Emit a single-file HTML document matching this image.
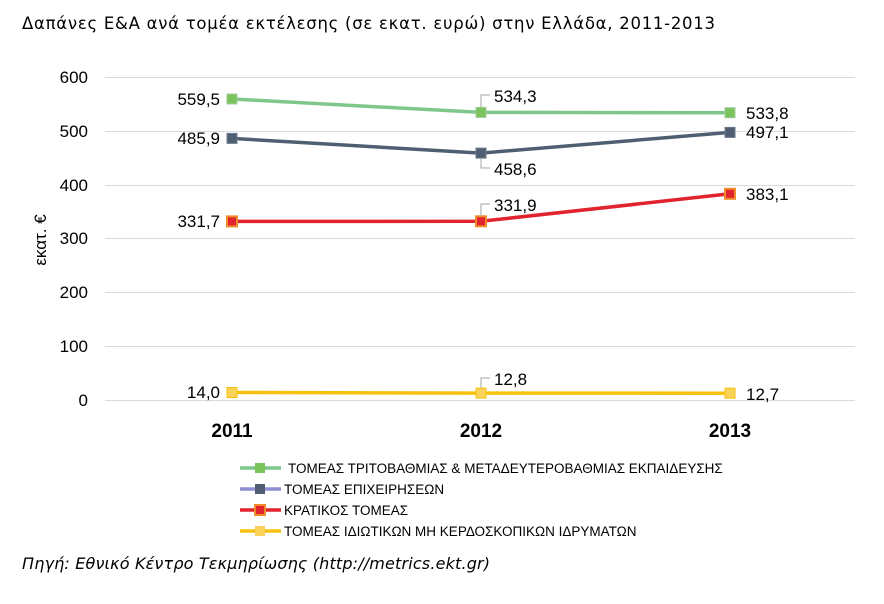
<!DOCTYPE html>
<html><head><meta charset="utf-8"><style>
body{margin:0;background:#fff;}
svg text{font-family:"Liberation Sans","DejaVu Sans",sans-serif;}
</style></head><body>
<svg width="884" height="599" viewBox="0 0 884 599" xmlns="http://www.w3.org/2000/svg">
<rect width="884" height="599" fill="#fff"/>
<text x="22" y="29" font-size="16.5" textLength="693" lengthAdjust="spacing" fill="#000" style="font-family:'DejaVu Sans',sans-serif">Δαπάνες Ε&amp;Α ανά τομέα εκτέλεσης (σε εκατ. ευρώ) στην Ελλάδα, 2011-2013</text>
<g stroke="#d9d9d9" stroke-width="1">
<line x1="105" y1="77.5" x2="855" y2="77.5"/><line x1="105" y1="131.5" x2="855" y2="131.5"/>
<line x1="105" y1="185.5" x2="855" y2="185.5"/><line x1="105" y1="238.5" x2="855" y2="238.5"/>
<line x1="105" y1="292.5" x2="855" y2="292.5"/><line x1="105" y1="346.5" x2="855" y2="346.5"/>
<line x1="105" y1="400.5" x2="855" y2="400.5"/>
</g>
<g font-size="17" fill="#000" text-anchor="end">
<text x="88" y="83">600</text><text x="88" y="137">500</text><text x="88" y="191">400</text>
<text x="88" y="244">300</text><text x="88" y="298">200</text><text x="88" y="352">100</text><text x="88" y="406">0</text>
</g>
<text transform="translate(46,240) rotate(-90)" font-size="17" text-anchor="middle">εκατ. €</text>
<g font-size="19" font-weight="bold" text-anchor="middle">
<text x="232" y="437">2011</text><text x="481" y="437">2012</text><text x="730" y="437">2013</text>
</g>
<g fill="none" stroke-width="3.5">
<polyline points="232,99 481,112.4 730,112.7" stroke="#7fc68a"/>
<polyline points="232,138.4 481,153.1 730,132.4" stroke="#4f5f71"/>
<polyline points="232,221.4 481,221.3 730,193.8" stroke="#e0232d"/>
<polyline points="232,392.5 481,393.1 730,393.2" stroke="#f7c20f"/>
</g>
<g stroke-width="1">
<rect x="227" y="94" width="10" height="10" fill="#7cc35b" stroke="#9fc99f"/><rect x="476" y="107.4" width="10" height="10" fill="#7cc35b" stroke="#9fc99f"/><rect x="725" y="107.7" width="10" height="10" fill="#7cc35b" stroke="#9fc99f"/>
<rect x="227" y="133.4" width="10" height="10" fill="#4f5f71" stroke="#6b7a8a"/><rect x="476" y="148.1" width="10" height="10" fill="#4f5f71" stroke="#6b7a8a"/><rect x="725" y="127.4" width="10" height="10" fill="#4f5f71" stroke="#6b7a8a"/>
<rect x="227" y="216.4" width="10" height="10" fill="#e0232d" stroke="#f08a2a" stroke-width="2"/><rect x="476" y="216.3" width="10" height="10" fill="#e0232d" stroke="#f08a2a" stroke-width="2"/><rect x="725" y="188.8" width="10" height="10" fill="#e0232d" stroke="#f08a2a" stroke-width="2"/>
<rect x="227" y="387.5" width="10" height="10" fill="#fad25a" stroke="#f7c20f"/><rect x="476" y="388.1" width="10" height="10" fill="#fad25a" stroke="#f7c20f"/><rect x="725" y="388.2" width="10" height="10" fill="#fad25a" stroke="#f7c20f"/>
</g>
<g stroke="#a6a6a6" fill="none" stroke-width="1">
<polyline points="481,107 481,95 490,95"/><polyline points="481,158 481,168 490,168"/>
<polyline points="481,216 481,204 490,204"/><polyline points="481,388 481,378 490,378"/>
</g>
<g font-size="17" fill="#000">
<text x="220" y="105" text-anchor="end">559,5</text><text x="494" y="102">534,3</text><text x="746" y="119">533,8</text>
<text x="220" y="144" text-anchor="end">485,9</text><text x="494" y="175">458,6</text><text x="746" y="138">497,1</text>
<text x="220" y="227" text-anchor="end">331,7</text><text x="494" y="211">331,9</text><text x="746" y="200">383,1</text>
<text x="220" y="398" text-anchor="end">14,0</text><text x="494" y="385">12,8</text><text x="746" y="400">12,7</text>
</g>
<g stroke-width="3.5">
<line x1="240" y1="468" x2="281" y2="468" stroke="#7fc68a"/><rect x="255" y="463" width="10" height="10" fill="#7cc35b"/>
<line x1="240" y1="489" x2="281" y2="489" stroke="#8e8fd0"/><rect x="255" y="484" width="10" height="10" fill="#4f5f71"/>
<line x1="240" y1="510" x2="281" y2="510" stroke="#e0232d"/><rect x="255" y="505" width="10" height="10" fill="#e0232d" stroke="#f08a2a" stroke-width="2"/>
<line x1="240" y1="531" x2="281" y2="531" stroke="#f7c20f"/><rect x="255" y="526" width="10" height="10" fill="#fad25a"/>
</g>
<g font-size="13.5" fill="#000">
<text x="288" y="473">ΤΟΜΕΑΣ ΤΡΙΤΟΒΑΘΜΙΑΣ &amp; ΜΕΤΑΔΕΥΤΕΡΟΒΑΘΜΙΑΣ ΕΚΠΑΙΔΕΥΣΗΣ</text>
<text x="284" y="494">ΤΟΜΕΑΣ ΕΠΙΧΕΙΡΗΣΕΩΝ</text>
<text x="284" y="515">ΚΡΑΤΙΚΟΣ ΤΟΜΕΑΣ</text>
<text x="284" y="536">ΤΟΜΕΑΣ ΙΔΙΩΤΙΚΩΝ ΜΗ ΚΕΡΔΟΣΚΟΠΙΚΩΝ ΙΔΡΥΜΑΤΩΝ</text>
</g>
<text x="22" y="569" font-size="16" font-style="italic" textLength="468" lengthAdjust="spacing" style="font-family:'DejaVu Sans',sans-serif">Πηγή: Εθνικό Κέντρο Τεκμηρίωσης (http://metrics.ekt.gr)</text>
</svg>
</body></html>
